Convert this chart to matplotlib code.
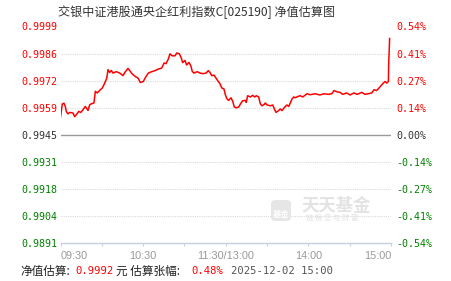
import matplotlib.pyplot as plt
from matplotlib.patches import FancyBboxPatch

plt.rcParams['font.family'] = ['Noto Sans CJK SC', 'DejaVu Sans']

# 分钟(从09:30起, 午休合并) 与 估算涨幅(%)
minutes = [0, 1.3, 2.5, 3.5, 4.2, 5.4, 6.7, 9.1, 10.3, 12.0, 13.2, 14.7, 16.3, 18.0,
           20.0, 21.2, 22.4, 24.3, 25.3, 26.7, 28.5, 30.4, 32.1, 33.6, 34.5, 35.7,
           36.9, 38.1, 40.5, 43.0, 45.4, 47.1, 49.0, 50.3, 51.9, 54.3, 56.3, 58.0,
           60.1, 62.1, 63.8, 66.2, 68.6, 71.0, 73.5, 75.2, 76.6, 78.3, 79.5, 81.0,
           83.2, 84.4, 86.3, 87.7, 88.7, 90.4, 91.6, 93.3, 94.6, 95.7, 96.9, 99.3,
           101.3, 103.3, 105.7, 107.3, 108.6, 109.8, 111.5, 112.9, 114.6, 115.8,
           117.1, 118.7, 119.7, 120.9, 122.1, 123.8, 125.1, 126.2, 127.7, 129.4,
           131.1, 132.3, 134.2, 134.9, 135.9, 137.8, 139.6, 141.0, 142.2, 143.9,
           145.1, 146.3, 148.0, 148.7, 150.0, 152.4, 154.1, 155.3, 156.5, 158.0,
           159.6, 160.9, 162.8, 164.5, 165.7, 166.9, 168.1, 169.4, 170.5, 172.5,
           174.1, 175.9, 177.8, 179.0, 181.2, 184.8, 188.4, 191.4, 194.5, 197.0,
           198.6, 200.6, 203.0, 204.9, 207.8, 210.2, 213.1, 215.5, 218.7, 221.1,
           223.5, 226.0, 227.7, 229.6, 232.0, 234.0, 235.7, 236.9, 238.1, 238.3, 239.0]
pct = [0.088, 0.154, 0.158, 0.141, 0.117, 0.105, 0.112, 0.109, 0.091, 0.105, 0.117,
       0.112, 0.125, 0.142, 0.122, 0.150, 0.155, 0.159, 0.217, 0.209, 0.222, 0.234,
       0.258, 0.283, 0.325, 0.311, 0.321, 0.308, 0.315, 0.308, 0.295, 0.315, 0.331,
       0.320, 0.305, 0.291, 0.283, 0.261, 0.266, 0.291, 0.308, 0.315, 0.320, 0.328,
       0.333, 0.358, 0.355, 0.378, 0.404, 0.394, 0.394, 0.408, 0.404, 0.383, 0.360,
       0.371, 0.348, 0.361, 0.345, 0.316, 0.308, 0.315, 0.308, 0.305, 0.308, 0.320,
       0.311, 0.295, 0.298, 0.283, 0.266, 0.255, 0.234, 0.229, 0.200, 0.179, 0.172,
       0.185, 0.167, 0.139, 0.135, 0.139, 0.159, 0.170, 0.172, 0.162, 0.195, 0.189,
       0.197, 0.189, 0.195, 0.189, 0.155, 0.145, 0.152, 0.159, 0.149, 0.145, 0.149,
       0.129, 0.112, 0.119, 0.129, 0.121, 0.139, 0.149, 0.142, 0.159, 0.179, 0.189,
       0.185, 0.192, 0.195, 0.189, 0.199, 0.205, 0.200, 0.205, 0.199, 0.205, 0.202,
       0.205, 0.221, 0.215, 0.212, 0.202, 0.209, 0.199, 0.209, 0.202, 0.212, 0.202,
       0.205, 0.209, 0.225, 0.221, 0.239, 0.255, 0.266, 0.258, 0.266, 0.349, 0.480]

pct_ticks = [0.54, 0.405, 0.27, 0.135, 0.0, -0.135, -0.27, -0.405, -0.54]
nav_labels = ['0.9999', '0.9986', '0.9972', '0.9959', '0.9945',
              '0.9931', '0.9918', '0.9904', '0.9891']
pct_labels = ['0.54%', '0.41%', '0.27%', '0.14%', '0.00%',
              '-0.14%', '-0.27%', '-0.41%', '-0.54%']
x_ticks = [0, 30, 60, 90, 120, 150, 180, 210, 240]
x_labels = ['09:30', '', '10:30', '', '11:30/13:00', '', '14:00', '', '15:00']

W, H = 451, 281
fig = plt.figure(figsize=(W / 100, H / 100), dpi=100)
ax = fig.add_axes([60.5 / W, 1 - 243.3 / H, 330.5 / W, 216.8 / H])
ax.set_xlim(0, 240)
ax.set_ylim(-0.54, 0.54)

for t in pct_ticks[:-1]:
    if t == 0:
        ax.axhline(t, color='#999999', lw=1.0, zorder=1)
    else:
        ax.axhline(t, color='#d9d9d9', lw=0.8, ls=(0, (1, 1)), zorder=1)

ax.plot(minutes, pct, color='#ff0000', lw=1.1, zorder=3)

def tick_color(v):
    if v > 0:
        return '#ff0000'
    if v < 0:
        return '#008000'
    return '#333333'

for s in ['top', 'left', 'right']:
    ax.spines[s].set_visible(False)
ax.spines['bottom'].set_color('#c4d2e0')
ax.spines['bottom'].set_linewidth(1.0)

ax.set_yticks(pct_ticks)
ax.set_yticklabels(nav_labels, family='DejaVu Sans Mono', fontsize=7.2)
ax.tick_params(axis='y', length=0, pad=2.5)
for lab, v in zip(ax.get_yticklabels(), pct_ticks):
    lab.set_color(tick_color(v))

ax2 = ax.twinx()
ax2.set_ylim(ax.get_ylim())
ax2.set_yticks(pct_ticks)
ax2.set_yticklabels(pct_labels, family='DejaVu Sans Mono', fontsize=7.2)
ax2.tick_params(axis='y', length=0, pad=4)
for lab, v in zip(ax2.get_yticklabels(), pct_ticks):
    lab.set_color(tick_color(v))
for s in ax2.spines.values():
    s.set_visible(False)

ax.set_xticks(x_ticks)
ax.set_xticklabels(x_labels, family='Liberation Sans', fontsize=7.8, color='#999999')
ax.tick_params(axis='x', length=2.5, color='#c4d2e0', pad=3)
xl = ax.get_xticklabels()
xl[0].set_horizontalalignment('left')
xl[-1].set_horizontalalignment('right')

# 水印
logo = FancyBboxPatch((271 / W, 1 - 221 / H), 20 / W, 21 / H,
                      boxstyle='round,pad=0,rounding_size=0.012',
                      transform=fig.transFigure, facecolor='#e6e6e6',
                      edgecolor='none', zorder=0)
fig.patches.append(logo)
fig.text(281 / W, 1 - 214 / H, '基金', fontsize=6, color='white',
         ha='center', va='center', weight='bold')
fig.text(302 / W, 1 - 206 / H, '天天基金', fontsize=12.5, color='#e3e3e3',
         ha='left', va='center', weight='bold')
fig.text(306 / W, 1 - 217.5 / H, '链 接 您 与 财 富', fontsize=5.3,
         color='#e3e3e3', ha='left', va='center')

fig.text(58 / W, 1 - 12 / H, '交银中证港股通央企红利指数C[025190] 净值估算图',
         fontsize=8.7, color='#333333', ha='left', va='center')

fy = 1 - 271 / H
fig.text(20 / W, fy, '净值估算:', fontsize=8.4, color='#222222', va='center')
fig.text(75 / W, fy, '0.9992', family='DejaVu Sans Mono', fontsize=7.6,
         color='#ff0000', va='center')
fig.text(116 / W, fy, '元 估算张幅:', fontsize=8.4, color='#222222', va='center')
fig.text(191 / W, fy, '0.48%', family='DejaVu Sans Mono', fontsize=7.6,
         color='#ff0000', va='center')
fig.text(231 / W, fy, '2025-12-02 15:00', family='DejaVu Sans Mono',
         fontsize=7.6, color='#555555', va='center')

fig.savefig('out.png', dpi=100)
